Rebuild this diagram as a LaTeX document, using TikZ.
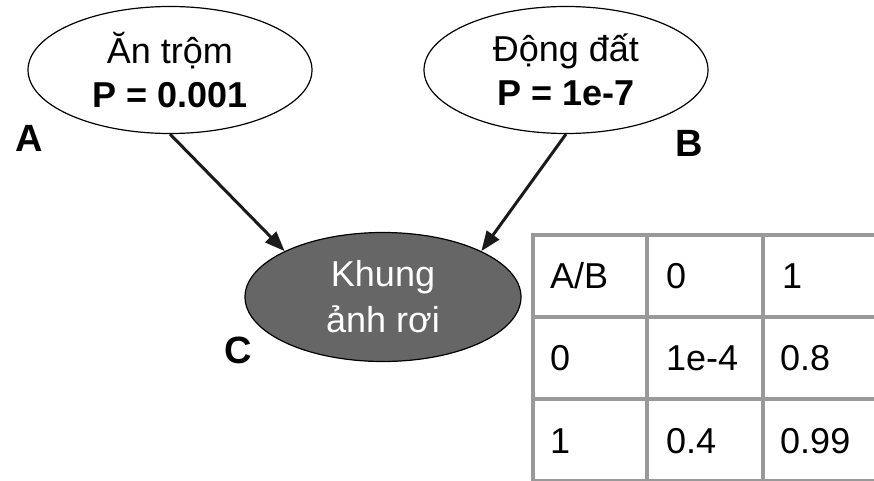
\documentclass[tikz,border=0pt]{standalone}
\usepackage{fontspec}
\setmainfont{Liberation Sans}
\usetikzlibrary{shapes.geometric,arrows.meta}
\definecolor{gridgray}{HTML}{999999}
\definecolor{nodefill}{HTML}{666666}
\definecolor{arrowink}{HTML}{1A1A1A}
\begin{document}
\begin{tikzpicture}[x=1pt,y=-1pt,
  event/.style={ellipse, draw=black, line width=1.2pt, inner sep=0pt, align=center,
    minimum width=284pt, minimum height=127pt, font=\fontsize{36}{44}\selectfont},
  hidden/.style={event, fill=nodefill, text=white, minimum width=276pt, minimum height=129pt, font=\fontsize{36}{46}\selectfont},
  varlabel/.style={font=\fontsize{38}{40}\selectfont\bfseries, inner sep=0pt},
  link/.style={line width=3pt, draw=arrowink, -{Triangle[length=20pt,width=15pt]}},
  cell/.style={anchor=base west, inner sep=0pt, font=\fontsize{36}{40}\selectfont},
  rule/.style={draw=gridgray, line width=4.5pt}
]
\useasboundingbox (0,0) rectangle (874,481);

% network nodes
\node[event] (a) at (170,70) {Ăn trộm\\\textbf{P = 0.001}};
\node[event] (b) at (566,70) {Động đất\\\textbf{P = 1e-7}};
\node[hidden] (c) at (383,297) {Khung\\ảnh rơi};

\node[varlabel] (la) at (29.5,138) {A};
\node[varlabel] (lb) at (689.5,143) {B};
\node[varlabel] (lc) at (238,350.5) {C};

% edges
\draw[link] (a.south) -- (c.155);
\draw[link] (b.south) -- (c.25);

% conditional probability table
\begin{scope}
\clip (0,0) rectangle (874,481);
\foreach \x in {533,647,763,879} \draw[rule] (\x,233) -- (\x,490);
\foreach \y in {235,317,399,481} \draw[rule] (531,\y) -- (890,\y);
\end{scope}

\node[cell] (t11) at (550,288) {A/B};
\node[cell] (t12) at (666,288) {0};
\node[cell] (t13) at (782,288) {1};
\node[cell] (t21) at (550,370) {0};
\node[cell] (t22) at (666,370) {1e-4};
\node[cell] (t23) at (780,370) {0.8};
\node[cell] (t31) at (550,453) {1};
\node[cell] (t32) at (666,453) {0.4};
\node[cell] (t33) at (780,453) {0.99};
\end{tikzpicture}
\end{document}
